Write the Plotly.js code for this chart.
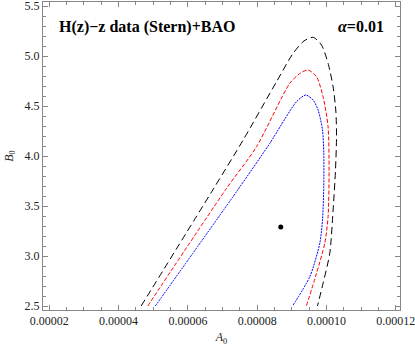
<!DOCTYPE html>
<html>
<head>
<meta charset="utf-8">
<script src="https://cdn.plot.ly/plotly-3.0.1.min.js"></script>
<style>html,body{margin:0;padding:0;background:#fff;}#chart{width:415px;height:346px;}</style>
</head>
<body>
<div id="chart"></div>
<script>
// Contour levels
const blackX = [4.65e-5, 6.73e-5, 7.595e-5, 8.558e-5, 9.037e-5, 9.35e-5, 9.614e-5, 9.856e-5, 1.0046e-4, 1.0191e-4, 1.027e-4, 1.029e-4, 1.026e-4, 1.0191e-4, 1.0095e-4, 9.902e-5, 9.74e-5];
const blackY = [2.5, 3.667, 4.16, 4.743, 5.027, 5.15, 5.187, 5.11, 4.927, 4.693, 4.45, 4.2, 3.86, 3.46, 3.027, 2.727, 2.5];
const redX = [4.84e-5, 7.096e-5, 7.981e-5, 8.942e-5, 9.25e-5, 9.47e-5, 9.712e-5, 9.902e-5, 1.0046e-4, 1.0075e-4, 1.0046e-4, 9.951e-5, 9.712e-5, 9.42e-5];
const redY = [2.5, 3.667, 4.093, 4.727, 4.83, 4.86, 4.793, 4.593, 4.293, 3.86, 3.393, 3.127, 2.827, 2.5];
const blueX = [5.06e-5, 7.451e-5, 8.365e-5, 9.135e-5, 9.403e-5, 9.614e-5, 9.758e-5, 9.885e-5, 9.922e-5, 9.922e-5, 9.885e-5, 9.807e-5, 9.519e-5, 9.02e-5];
const blueY = [2.5, 3.667, 4.127, 4.543, 4.61, 4.56, 4.46, 4.26, 4.027, 3.693, 3.36, 3.127, 2.793, 2.5];
const bestX = [8.68e-5];
const bestY = [3.29];
const titleText = "H(z)\u2212z data (Stern)+BAO";
const alphaText = "=0.01";

const serif = "'Liberation Serif', 'DejaVu Serif', serif";
const traces = [
  {x: blackX, y: blackY, mode: 'lines', line: {color: '#000', width: 1, dash: '7px,4px', shape: 'spline', smoothing: 0.7}, hoverinfo: 'skip'},
  {x: redX, y: redY, mode: 'lines', line: {color: '#ff0000', width: 1, dash: '4px,2px', shape: 'spline', smoothing: 0.7}, hoverinfo: 'skip'},
  {x: blueX, y: blueY, mode: 'lines', line: {color: '#0000ff', width: 1, dash: '2px,1px', shape: 'spline', smoothing: 0.7}, hoverinfo: 'skip'},
  {x: bestX, y: bestY, mode: 'markers', marker: {color: '#000', size: 5}, hoverinfo: 'skip'}
];
const axisCommon = {
  showline: true, mirror: 'ticks', linecolor: '#888', linewidth: 1,
  ticks: 'inside', ticklen: 5, tickcolor: '#888', tickwidth: 1,
  showgrid: false, zeroline: false, ticklabeloverflow: 'allow',
  tickfont: {family: serif, size: 12, color: '#222'}
};
const layout = {
  width: 415, height: 346,
  margin: {l: 43, r: 15, t: 2, b: 36},
  paper_bgcolor: '#fff', plot_bgcolor: '#fff',
  showlegend: false,
  font: {family: serif},
  xaxis: Object.assign({}, axisCommon, {
    range: [1.818e-5, 1.2122e-4], tick0: 0.00002, dtick: 0.00002, tickformat: '.5f',
    minor: {dtick: 0.000005, ticklen: 3, tickcolor: '#888', ticks: 'inside'},
    title: {text: '<i>A</i><sub>0</sub>', font: {family: serif, size: 12, color: '#222'}, standoff: 13}
  }),
  yaxis: Object.assign({}, axisCommon, {
    range: [2.46, 5.54], tick0: 2.5, dtick: 0.5, tickformat: '.1f',
    minor: {dtick: 0.1, ticklen: 3, tickcolor: '#888', ticks: 'inside'},
    title: {text: '<i>B</i><sub>0</sub>', font: {family: serif, size: 12, color: '#222'}, standoff: 8}
  }),
  annotations: [
    {xref: 'paper', yref: 'paper', x: 0.039, y: 0.919, xanchor: 'left', yanchor: 'middle', showarrow: false,
     text: '<b>' + titleText + '</b>', font: {family: serif, size: 16, color: '#000'}},
    {xref: 'paper', yref: 'paper', x: 0.961, y: 0.919, xanchor: 'right', yanchor: 'middle', showarrow: false,
     text: '<b><i>\u03b1</i>' + alphaText + '</b>', font: {family: serif, size: 16, color: '#000'}}
  ]
};
Plotly.newPlot('chart', traces, layout, {staticPlot: true, displayModeBar: false});
</script>
</body>
</html>
